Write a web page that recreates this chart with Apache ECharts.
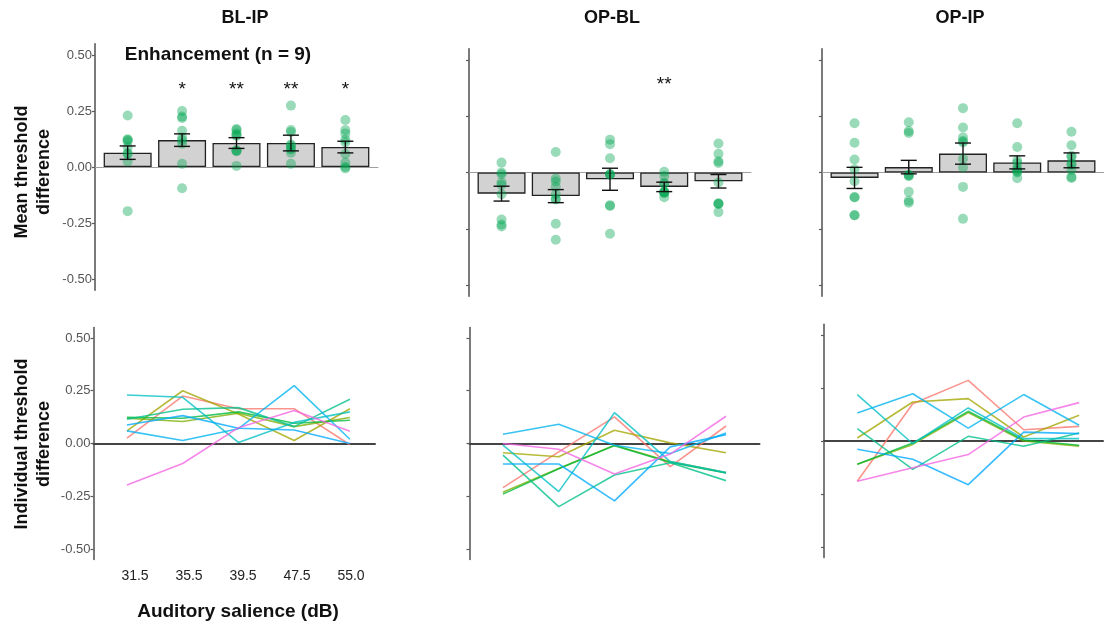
<!DOCTYPE html>
<html>
<head>
<meta charset="utf-8">
<script src="https://cdn.jsdelivr.net/npm/echarts@6/dist/echarts.min.js"></script>
<style>
html,body{margin:0;padding:0;background:#fff;}
#chart{width:1104px;height:626px;}
</style>
</head>
<body>
<div id="chart"></div>
<script>
// ---------- DATA ----------
const categories = ['31.5', '35.5', '39.5', '47.5', '55.0'];
const yTicks = [-0.5, -0.25, 0, 0.25, 0.5];
const panelTitles = ['BL-IP', 'OP-BL', 'OP-IP'];

// individual subjects (9), values at the 5 salience levels
const blipSubjects = [
  [0.025, 0.225, 0.165, 0.165, -0.006],
  [0.06, 0.25, 0.14, 0.014, 0.165],
  [0.12, 0.104, 0.143, 0.08, 0.123],
  [0.124, 0.12, 0.15, 0.096, 0.11],
  [0.115, 0.162, 0.17, 0.08, 0.21],
  [0.23, 0.219, 0.005, 0.10, 0.15],
  [0.06, 0.014, 0.07, 0.274, 0.02],
  [0.088, 0.132, 0.072, 0.064, 0.0],
  [-0.197, -0.095, 0.075, 0.156, 0.058]
];
const opblSubjects = [
  [-0.209, -0.04, 0.126, -0.11, 0.083],
  [-0.044, -0.063, 0.063, 0.003, -0.044],
  [-0.231, -0.118, -0.008, -0.086, -0.138],
  [-0.24, -0.12, -0.01, -0.09, -0.14],
  [-0.055, -0.299, -0.149, -0.091, -0.176],
  [-0.008, -0.228, 0.146, -0.086, -0.138],
  [0.044, 0.091, -0.008, -0.047, 0.05],
  [-0.097, -0.097, -0.272, -0.016, 0.042],
  [0.0, -0.027, -0.145, -0.05, 0.129]
];
const opipSubjects = [
  [-0.19, 0.176, 0.286, 0.053, 0.069],
  [0.014, 0.184, 0.2, 0.019, 0.121],
  [-0.11, -0.016, 0.134, 0.0, -0.024],
  [-0.11, -0.01, 0.14, 0.005, -0.02],
  [0.058, -0.134, 0.022, -0.025, 0.038],
  [0.219, -0.013, 0.156, 0.011, 0.011],
  [0.132, 0.223, 0.061, 0.219, 0.074],
  [-0.039, -0.086, -0.206, 0.042, 0.035],
  [-0.19, -0.126, -0.064, 0.113, 0.181]
];

// group means and standard errors
const blipMean = [0.064, 0.12, 0.107, 0.107, 0.089];
const blipSE   = [0.030, 0.028, 0.024, 0.035, 0.026];
const opblMean = [-0.094, -0.105, -0.03, -0.064, -0.039];
const opblSE   = [0.033, 0.029, 0.049, 0.021, 0.030];
const opipMean = [-0.024, 0.024, 0.084, 0.045, 0.054];
const opipSE   = [0.047, 0.030, 0.047, 0.029, 0.033];

// significance marks
const blipStars = ['', '*', '**', '**', '*'];
const opblStars = ['', '', '', '**', ''];
const opipStars = ['', '', '', '', ''];

const subjectColors = ['#F8766D', '#A3A500', '#7CAE00', '#00BA38', '#00C08B', '#00BFC4', '#00B4EF', '#00A9FF', '#F564E3'];

// ---------- CHART ----------
const chart = echarts.init(document.getElementById('chart'), null, {renderer: 'canvas'});
const FONT = '"Liberation Sans", Arial, Helvetica, sans-serif';

const grids = [
  {left: 95,   top: 43.8,  width: 283,   height: 246.4},
  {left: 469,  top: 48.75, width: 282,   height: 247.5},
  {left: 822,  top: 48.75, width: 282,   height: 247.5},
  {left: 93.5, top: 327.45, width: 281.5, height: 232.1},
  {left: 469.5, top: 327.45, width: 290, height: 232.1},
  {left: 824,  top: 324.4, width: 279,   height: 233.2},
  {left: 108,  top: 560,   width: 270,   height: 1}
].map(g => Object.assign({containLabel: false, outerBoundsMode: 'none'}, g));

const xMax = [5.6, 5.6, 5.6, 5.45, 5.6, 5.43];

const xAxes = [];
const yAxes = [];
for (let p = 0; p < 6; p++) {
  const top = p < 3;
  xAxes.push({
    type: 'value', gridIndex: p, min: 0.4, max: xMax[p],
    axisLine: {show: true, onZero: true, lineStyle: {color: top ? '#a0a0a0' : '#444', width: top ? 1 : 2}},
    axisTick: {show: false}, axisLabel: {show: false}, splitLine: {show: false}
  });
  yAxes.push({
    type: 'value', gridIndex: p, min: -0.55, max: 0.55,
    axisLine: {show: true, onZero: false, lineStyle: {color: '#5a5a5a', width: 1.6}},
    axisTick: {show: true, customValues: yTicks, length: 3, lineStyle: {color: '#5a5a5a', width: 1.2}},
    axisLabel: {show: p === 0 || p === 3, customValues: yTicks, margin: 3,
      formatter: v => Number(v).toFixed(2), color: '#555', fontSize: 13, fontFamily: FONT},
    splitLine: {show: false}
  });
}
// label-only axis for the salience levels
xAxes.push({
  type: 'category', gridIndex: 6, data: categories, boundaryGap: true,
  axisLine: {show: false}, axisTick: {show: false},
  axisLabel: {show: true, margin: 8, color: '#222', fontSize: 14, fontFamily: FONT}
});
yAxes.push({type: 'value', gridIndex: 6, show: false});

const series = [];
const topSets = [
  {mean: blipMean, se: blipSE, subj: blipSubjects, stars: blipStars, starLevel: 0.345},
  {mean: opblMean, se: opblSE, subj: opblSubjects, stars: opblStars, starLevel: 0.39},
  {mean: opipMean, se: opipSE, subj: opipSubjects, stars: opipStars, starLevel: 0.39}
];

topSets.forEach((s, p) => {
  series.push({
    type: 'bar', xAxisIndex: p, yAxisIndex: p, barWidth: 48, z: 2,
    data: s.mean.map((m, i) => [i + 1, m]),
    itemStyle: {color: '#D2D2D2', borderColor: '#222', borderWidth: 1.3},
    silent: true
  });
  const pts = [];
  s.subj.forEach(row => row.forEach((v, i) => pts.push([i + 1, v])));
  series.push({
    type: 'scatter', xAxisIndex: p, yAxisIndex: p, z: 3, symbolSize: 10,
    data: pts, itemStyle: {color: 'rgba(0,166,81,0.5)'}, silent: true
  });
  series.push({
    type: 'custom', xAxisIndex: p, yAxisIndex: p, z: 4, silent: true,
    data: s.mean.map((m, i) => [i + 1, m - s.se[i], m + s.se[i]]),
    encode: {x: 0, y: [1, 2]},
    renderItem: (params, api) => {
      const x = api.value(0);
      const lo = api.coord([x, api.value(1)]);
      const hi = api.coord([x, api.value(2)]);
      const hw = 8;
      const st = {stroke: '#111', lineWidth: 1.4};
      return {type: 'group', children: [
        {type: 'line', shape: {x1: lo[0], y1: lo[1], x2: hi[0], y2: hi[1]}, style: st},
        {type: 'line', shape: {x1: lo[0] - hw, y1: lo[1], x2: lo[0] + hw, y2: lo[1]}, style: st},
        {type: 'line', shape: {x1: hi[0] - hw, y1: hi[1], x2: hi[0] + hw, y2: hi[1]}, style: st}
      ]};
    }
  });
  const starItems = s.stars.map((t, i) => [i + 1, t]).filter(d => d[1]);
  if (starItems.length) {
    series.push({
      type: 'custom', xAxisIndex: p, yAxisIndex: p, z: 5, silent: true,
      data: starItems.map(d => [d[0], s.starLevel]),
      renderItem: (params, api) => {
        const c = api.coord([api.value(0), api.value(1)]);
        return {type: 'text', x: c[0], y: c[1], style: {
          text: starItems[params.dataIndex][1], font: '19px ' + FONT,
          fill: '#111', textAlign: 'center', textVerticalAlign: 'middle'}};
      }
    });
  }
});

[blipSubjects, opblSubjects, opipSubjects].forEach((subj, k) => {
  const p = k + 3;
  subj.forEach((row, j) => {
    series.push({
      type: 'line', xAxisIndex: p, yAxisIndex: p, z: 2, silent: true,
      symbol: 'none', showSymbol: false,
      data: row.map((v, i) => [i + 1, v]),
      lineStyle: {color: subjectColors[j], width: 1.6, opacity: 0.78}
    });
  });
});

const titleCenters = [245, 612, 960];
const graphics = panelTitles.map((t, i) => ({
  type: 'text', x: titleCenters[i], y: 18,
  style: {text: t, font: 'bold 18px ' + FONT, fill: '#111', textAlign: 'center', textVerticalAlign: 'middle'}
}));
graphics.push({
  type: 'text', x: 218, y: 55,
  style: {text: 'Enhancement (n = 9)', font: 'bold 19px ' + FONT, fill: '#111', textAlign: 'center', textVerticalAlign: 'middle'}
});
graphics.push({
  type: 'text', x: 33, y: 172, rotation: Math.PI / 2,
  style: {text: 'Mean threshold\ndifference', font: 'bold 18px ' + FONT, lineHeight: 22, fill: '#111', textAlign: 'center', textVerticalAlign: 'middle'}
});
graphics.push({
  type: 'text', x: 33, y: 444, rotation: Math.PI / 2,
  style: {text: 'Individual threshold\ndifference', font: 'bold 18px ' + FONT, lineHeight: 22, fill: '#111', textAlign: 'center', textVerticalAlign: 'middle'}
});
graphics.push({
  type: 'text', x: 238, y: 612,
  style: {text: 'Auditory salience (dB)', font: 'bold 19px ' + FONT, fill: '#111', textAlign: 'center', textVerticalAlign: 'middle'}
});

chart.setOption({
  animation: false,
  backgroundColor: '#fff',
  grid: grids,
  xAxis: xAxes,
  yAxis: yAxes,
  series: series,
  graphic: graphics
});
</script>
</body>
</html>
